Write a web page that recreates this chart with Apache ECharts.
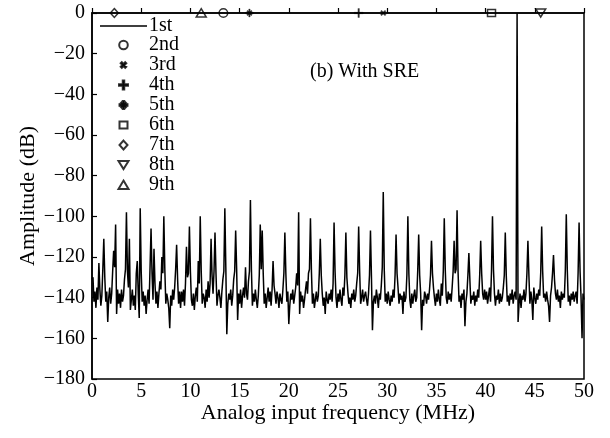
<!DOCTYPE html>
<html>
<head>
<meta charset="utf-8">
<script src="https://cdn.jsdelivr.net/npm/echarts@6/dist/echarts.min.js"></script>
<style>html,body{margin:0;padding:0;background:#fff}#c{width:610px;height:438px}</style>
</head>
<body>
<div id="c"></div>
<script>
// Spectrum samples, 0.1 MHz apart, from 0 to 50 MHz (dB)
const freqStepMHz = 0.1;
const amplitudeDb = [
-131,-130,-142,-137,-145,-135,-141,-123,-136,-144,
-139,-126,-111,-130,-142,-137,-152,-140,-135,-143,
-138,-127,-117,-125,-104,-148,-136,-143,-138,-145,
-136,-142,-139,-131,-126,-98,-127,-135,-111,-146,
-141,-136,-144,-139,-146,-128,-122,-138,-150,-96,
-127,-142,-137,-144,-139,-148,-141,-136,-143,-125,
-106,-128,-141,-116,-133,-143,-137,-145,-138,-132,
-136,-120,-128,-100,-126,-143,-138,-141,-145,-155,
-139,-144,-136,-141,-135,-126,-114,-131,-143,-137,
-145,-137,-142,-136,-144,-133,-115,-130,-128,-105,
-127,-141,-144,-138,-146,-139,-135,-142,-122,-133,
-100,-127,-143,-138,-140,-145,-136,-142,-132,-140,
-133,-111,-129,-138,-127,-108,-128,-144,-139,-136,
-140,-145,-137,-131,-127,-96,-125,-158,-143,-138,
-141,-136,-144,-139,-131,-127,-107,-126,-151,-138,
-143,-136,-145,-139,-135,-140,-125,-138,-141,-132,
-127,-92,-126,-144,-138,-142,-136,-141,-145,-139,
-129,-104,-126,-107,-128,-143,-138,-145,-140,-135,
-142,-137,-144,-136,-122,-134,-138,-143,-137,-140,
-145,-138,-141,-143,-136,-128,-108,-128,-142,-137,
-153,-144,-138,-141,-136,-143,-139,-135,-128,-134,
-98,-148,-137,-142,-139,-145,-141,-136,-132,-138,
-128,-126,-101,-127,-143,-138,-145,-141,-137,-142,
-139,-128,-111,-129,-138,-144,-140,-148,-137,-141,
-143,-138,-141,-136,-142,-133,-103,-127,-140,-145,
-138,-142,-136,-141,-144,-135,-139,-129,-108,-130,
-137,-143,-140,-145,-138,-141,-136,-142,-139,-133,
-128,-105,-127,-143,-140,-136,-142,-139,-137,-141,
-144,-138,-129,-107,-130,-156,-142,-139,-143,-136,
-140,-145,-138,-141,-134,-125,-88,-126,-142,-138,
-143,-137,-141,-144,-139,-142,-136,-140,-129,-109,
-128,-135,-143,-138,-141,-139,-148,-137,-142,-140,
-129,-100,-128,-141,-145,-138,-143,-139,-136,-142,
-140,-127,-109,-129,-138,-156,-141,-144,-137,-139,
-143,-138,-141,-136,-129,-112,-128,-135,-140,-144,
-138,-142,-136,-141,-144,-133,-139,-127,-101,-126,
-140,-143,-137,-141,-138,-142,-135,-127,-112,-128,
-126,-97,-127,-142,-139,-145,-138,-141,-136,-154,
-142,-138,-129,-118,-131,-143,-139,-141,-137,-144,
-139,-142,-136,-140,-129,-112,-128,-138,-141,-136,
-141,-137,-143,-139,-135,-142,-127,-100,-126,-138,
-144,-139,-141,-136,-143,-138,-142,-140,-135,-129,
-108,-129,-142,-139,-144,-138,-141,-136,-143,-139,
-137,-141,0,-152,-143,-138,-145,-139,-141,-136,
-142,-138,-128,-112,-129,-143,-137,-141,-151,-135,
-140,-143,-138,-141,-136,-139,-128,-105,-127,-140,
-138,-142,-137,-141,-144,-152,-139,-135,-128,-119,
-131,-138,-141,-136,-142,-139,-145,-137,-141,-138,
-140,-127,-99,-126,-142,-139,-144,-138,-141,-137,
-142,-139,-137,-143,-128,-103,-127,-140,-160,-138,
-141
];
const fundamentalName = '1st';
const harmonicNames = ['2nd','3rd','4th','5th','6th','7th','8th','9th'];
const harmonicFreqMHz = [13.35, 29.6, 27.1, 16.0, 40.6, 2.27, 45.6, 11.1];
const harmonicLevelDb = [0, 0, 0, 0, 0, 0, 0, 0];
const yTickMin = -180, yTickMax = 0, yTickStep = 20;
const xTickMin = 0, xTickMax = 50, xTickStep = 5;

const FONT = '"Liberation Serif","Times New Roman",serif';
const PAD = 'M0,0ZM20,20Z';
const markerPaths = {
  '2nd': 'M14.3,10A4.3,4.3,0,1,1,5.7,10A4.3,4.3,0,1,1,14.3,10Z',
  '3rd': 'M7.2,8.3L8.3,7.2L12.8,11.7L11.7,12.8Z M11.7,7.2L12.8,8.3L8.3,12.8L7.2,11.7Z',
  '4th': 'M9.25,5.5H10.75V14.5H9.25Z M5.5,9.25H14.5V10.75H5.5Z',
  '5th': 'M9.3,6H10.7V14H9.3Z M6,9.3H14V10.7H6Z M7.2,8.2L8.2,7.2L12.8,11.8L11.8,12.8Z M11.8,7.2L12.8,8.2L8.2,12.8L7.2,11.8Z',
  '6th': 'M6,6.5H14V13.5H6Z',
  '7th': 'M10,5.6L14,10L10,14.4L6,10Z',
  '8th': 'M5,6H15L10,14Z',
  '9th': 'M10,5.6L15,14H5Z'
};
const filledMarkers = {'3rd': true, '4th': true, '5th': true};

const lineData = amplitudeDb.map((v, i) => [+(i * freqStepMHz).toFixed(1), v]);

const series = [{
  name: fundamentalName,
  type: 'line',
  data: lineData,
  symbol: 'none',
  lineStyle: {color: '#000', width: 1.5},
  itemStyle: {color: '#000'},
  animation: false,
  z: 2
}];
harmonicNames.forEach((n, k) => {
  const filled = !!filledMarkers[n];
  series.push({
    name: n,
    type: 'scatter',
    data: [[harmonicFreqMHz[k], harmonicLevelDb[k]]],
    symbol: 'path://' + PAD + markerPaths[n],
    symbolSize: 20,
    clip: false,
    animation: false,
    itemStyle: filled
      ? {color: '#000', borderColor: '#000', borderWidth: 0.3}
      : {color: 'rgba(0,0,0,0)', borderColor: '#000', borderWidth: 1.5},
    z: 5
  });
});

const legendData = [{name: fundamentalName, icon: 'path://M0,0ZM0,9.2H47V10.8H0ZM47,20Z'}]
  .concat(harmonicNames.map(n => ({name: n})));

const chart = echarts.init(document.getElementById('c'), null, {renderer: 'canvas'});
chart.setOption({
  animation: false,
  backgroundColor: '#fff',
  title: {
    text: '(b) With SRE', left: 305, top: 57,
    textStyle: {fontFamily: FONT, fontSize: 20, fontWeight: 'normal', color: '#000'}
  },
  legend: {
    orient: 'vertical', left: 95, top: 11,
    itemWidth: 47, itemHeight: 20, itemGap: -2,
    data: legendData,
    textStyle: {fontFamily: FONT, fontSize: 20, lineHeight: 20, color: '#000', padding: [0, 0, 0, -3]},
    selectedMode: false
  },
  grid: {left: 92, right: 26, top: 13, bottom: 59, show: true, borderColor: '#000', borderWidth: 1.5, backgroundColor: 'transparent'},
  xAxis: {
    type: 'value', min: xTickMin, max: xTickMax, interval: xTickStep,
    name: 'Analog input frequency (MHz)', nameLocation: 'middle', nameGap: 23, nameMoveOverlap: false,
    nameTextStyle: {fontFamily: FONT, fontSize: 22, color: '#000'},
    axisLine: {show: true, lineStyle: {color: '#000', width: 1.5}},
    axisTick: {show: true, inside: true, length: 5, lineStyle: {color: '#000', width: 1.2}},
    axisLabel: {fontFamily: FONT, fontSize: 20, color: '#000', margin: 3},
    splitLine: {show: false}
  },
  yAxis: {
    type: 'value', min: yTickMin, max: yTickMax, interval: yTickStep,
    name: 'Amplitude (dB)', nameLocation: 'middle', nameGap: 53, nameMoveOverlap: false,
    nameTextStyle: {fontFamily: FONT, fontSize: 22, color: '#000'},
    axisLine: {show: true, lineStyle: {color: '#000', width: 1.5}},
    axisTick: {show: true, inside: true, length: 5, lineStyle: {color: '#000', width: 1.2}},
    axisLabel: {fontFamily: FONT, fontSize: 20, color: '#000', margin: 7,
      formatter: v => String(v).replace('-', '\u2212')},
    splitLine: {show: false}
  },
  series: series
});
</script>
</body>
</html>
